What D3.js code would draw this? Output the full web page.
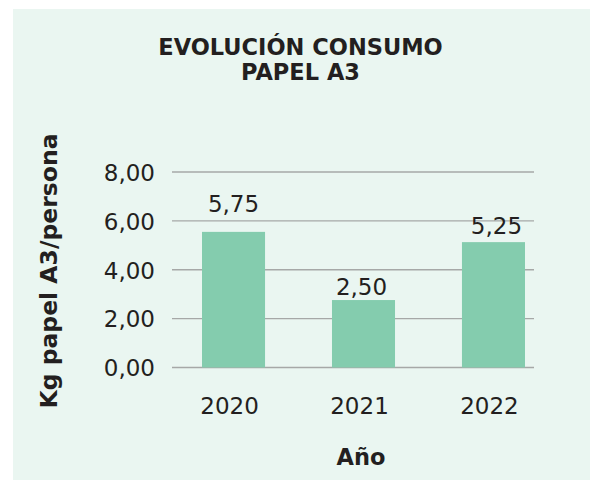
<!DOCTYPE html>
<html><head><meta charset="utf-8">
<script src="https://cdn.jsdelivr.net/npm/d3@7"></script>
<style>body{margin:0;background:#fff}svg{display:block}</style>
</head><body>
<svg id="c" width="590" height="480"></svg>
<script>
const categories = ["2020", "2021", "2022"];
const barValues = [5.55, 2.76, 5.13];
const valueLabels = ["5,75", "2,50", "5,25"];
const yTicks = [0, 2, 4, 6, 8];
const titleLines = ["EVOLUCIÓN CONSUMO", "PAPEL A3"];
const yTitle = "Kg papel A3/persona";
const xTitle = "Año";

const svg = d3.select("#c");
const font = "'DejaVu Sans', sans-serif";
const ink = "#231f20";
svg.append("rect").attr("x", 13).attr("y", 9).attr("width", 577).attr("height", 471).attr("fill", "#EAF6F1");

const m = {left: 172, right: 534, top: 172, bottom: 367.5};
const x = d3.scaleBand().domain(categories).range([182.5, 544.5]).paddingInner(0.515).paddingOuter(0.15);
const y = d3.scaleLinear().domain([0, 8]).range([m.bottom, m.top]);

// gridlines
svg.append("g").selectAll("line").data(yTicks).join("line")
  .attr("x1", m.left).attr("x2", m.right)
  .attr("y1", d => y(d)).attr("y2", d => y(d))
  .attr("stroke", "#a6a8a7").attr("stroke-width", 1.3);

// y axis labels
const yAxis = svg.append("g").attr("transform", `translate(${m.left - 17},0)`)
  .call(d3.axisLeft(y).tickValues(yTicks).tickSize(0).tickPadding(0).tickFormat(d => d3.format(".2f")(d).replace(".", ",")));
yAxis.select(".domain").remove();
yAxis.selectAll("text").attr("font-family", font).attr("font-size", 23).attr("fill", ink).attr("dy", "0.36em");

// bars
svg.append("g").selectAll("rect").data(barValues).join("rect")
  .attr("x", (d, i) => x(categories[i])).attr("width", x.bandwidth())
  .attr("y", d => y(d)).attr("height", d => y(0) - y(d))
  .attr("fill", "#84CCAE");

// value labels
const labelDy = [-20, -5, -8];
const labelDx = [0, -2, 3];
svg.append("g").selectAll("text").data(barValues).join("text")
  .attr("x", (d, i) => x(categories[i]) + x.bandwidth() / 2 + labelDx[i])
  .attr("y", (d, i) => y(d) + labelDy[i])
  .attr("text-anchor", "middle").attr("font-family", font).attr("font-size", 23).attr("fill", ink)
  .text((d, i) => valueLabels[i]);

// x axis labels
const xAxis = svg.append("g").attr("transform", `translate(-4,${m.bottom})`)
  .call(d3.axisBottom(x).tickSize(0).tickPadding(0));
xAxis.select(".domain").remove();
xAxis.selectAll("text").attr("font-family", font).attr("font-size", 23).attr("fill", ink).attr("dy", "46.5").attr("y", 0);

// titles
svg.append("g").selectAll("text").data(titleLines).join("text")
  .attr("x", 300.5).attr("y", (d, i) => 55 + i * 25)
  .attr("text-anchor", "middle").attr("font-family", font).attr("font-weight", "bold").attr("font-size", 22.5)
  .attr("fill", ink).text(d => d);

svg.append("text").attr("transform", "translate(57,271) rotate(-90)")
  .attr("text-anchor", "middle").attr("font-family", font).attr("font-weight", "bold").attr("font-size", 23.5)
  .attr("fill", ink).text(yTitle);

svg.append("text").attr("x", 361).attr("y", 465)
  .attr("text-anchor", "middle").attr("font-family", font).attr("font-weight", "bold").attr("font-size", 22.5)
  .attr("fill", ink).text(xTitle);
</script>
</body></html>
